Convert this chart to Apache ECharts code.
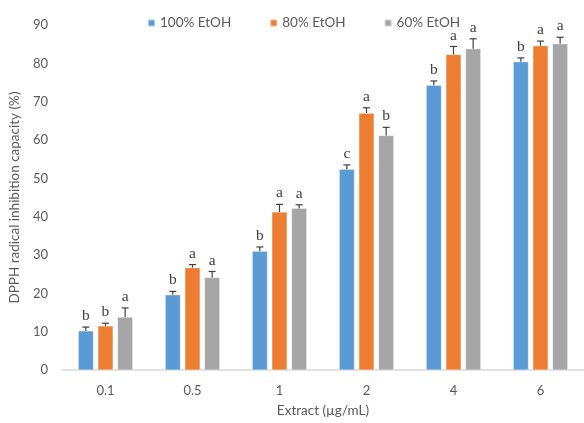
<!DOCTYPE html>
<html>
<head>
<meta charset="utf-8">
<script src="https://cdn.jsdelivr.net/npm/echarts@6/dist/echarts.min.js"></script>
<style>
  html, body { margin: 0; padding: 0; background: #fff; }
  #chart { width: 584px; height: 423px; }
</style>
</head>
<body>
<div id="chart"></div>
<script>
// DPPH radical inhibition by extract concentration, three EtOH solvents
const categories = ["0.1", "0.5", "1", "2", "4", "6"];
const seriesNames = ["100% EtOH", "80% EtOH", "60% EtOH"];
const colors = ["#5B9BD5", "#ED7D31", "#A5A5A5"];

const etoh100 = [10.2, 19.6, 31.0, 52.4, 74.3, 80.4];
const etoh80  = [11.5, 26.7, 41.2, 67.0, 82.3, 84.6];
const etoh60  = [13.8, 24.1, 42.2, 61.2, 83.8, 85.1];

// upper error (sd)
const err100 = [1.0, 0.9, 1.1, 1.1, 1.1, 1.0];
const err80  = [0.7, 0.8, 2.0, 1.4, 2.1, 1.2];
const err60  = [2.4, 1.6, 0.9, 2.1, 2.6, 1.7];

const letters100 = ["b", "b", "b", "c", "b", "b"];
const letters80  = ["b", "a", "a", "a", "a", "a"];
const letters60  = ["a", "a", "a", "b", "a", "a"];

const values = [etoh100, etoh80, etoh60];
const errs = [err100, err80, err60];
const letters = [letters100, letters80, letters60];

const TXT = "#595959";
const FONT = "Lato, 'Open Sans', sans-serif";
const BAR_W = 0.175;   // fraction of band
const BAR_GAP = 0.29;  // fraction of bar width

const chart = echarts.init(document.getElementById("chart"));

const series = [];
values.forEach((vals, i) => {
  series.push({
    name: seriesNames[i], type: "bar", data: vals,
    barWidth: (BAR_W * 100) + "%", barGap: (BAR_GAP * 100) + "%",
    itemStyle: { color: colors[i], borderColor: "rgba(255,255,255,0.5)", borderWidth: 0.5 },
    z: 2,
  });
});

// error bars + significance letters
values.forEach((vals, i) => {
  series.push({
    type: "custom", silent: true, z: 5,
    data: vals.map((v, k) => [k, v, errs[i][k], letters[i][k]]),
    encode: { x: 0, y: [1] },
    renderItem(params, api) {
      const band = api.size([1, 0])[0];
      const off = band * BAR_W * (1 + BAR_GAP) * (i - 1);
      const base = api.coord([api.value(0), api.value(1)]);
      const top = api.coord([api.value(0), api.value(1) + api.value(2)]);
      const x = base[0] + off;
      const st = { stroke: "#404040", lineWidth: 1.2 };
      return {
        type: "group",
        children: [
          { type: "line", shape: { x1: x, y1: base[1], x2: x, y2: top[1] }, style: st },
          { type: "line", shape: { x1: x - 3.5, y1: top[1], x2: x + 3.5, y2: top[1] }, style: st },
          { type: "text", style: {
              x: x, y: top[1] - 3, text: letters[i][params.dataIndex],
              fill: "#404040", font: "15.5px 'Liberation Serif', serif",
              align: "center", verticalAlign: "bottom",
          } },
        ],
      };
    },
  });
});

chart.setOption({
  backgroundColor: "#fff", animation: false,
  textStyle: { fontFamily: FONT },
  legend: {
    data: seriesNames, top: 11, left: 142, itemGap: 38,
    itemWidth: 7, itemHeight: 7, icon: "rect",
    textStyle: { color: TXT, fontSize: 13.5, fontFamily: FONT },
  },
  grid: { left: 60, right: -7, top: 25, bottom: 51, containLabel: false },
  xAxis: {
    type: "category", data: categories,
    axisLine: { lineStyle: { color: "#D9D9D9", width: 1.5 } },
    axisTick: { show: false },
    axisLabel: { color: TXT, fontSize: 13, margin: 14, fontFamily: FONT },
    name: "Extract (µg/mL)", nameLocation: "middle", nameGap: 34,
    nameTextStyle: { color: TXT, fontSize: 13.5, fontFamily: FONT },
  },
  yAxis: {
    type: "value", min: 0, max: 90, interval: 10,
    axisLine: { show: false }, axisTick: { show: false },
    splitLine: { show: false },
    axisLabel: { color: TXT, fontSize: 13, margin: 14, fontFamily: FONT },
    name: "DPPH radical inhibition capacity (%)", nameLocation: "middle", nameGap: 36,
    nameTextStyle: { color: TXT, fontSize: 13.5, fontFamily: FONT },
  },
  series,
});
</script>
</body>
</html>
